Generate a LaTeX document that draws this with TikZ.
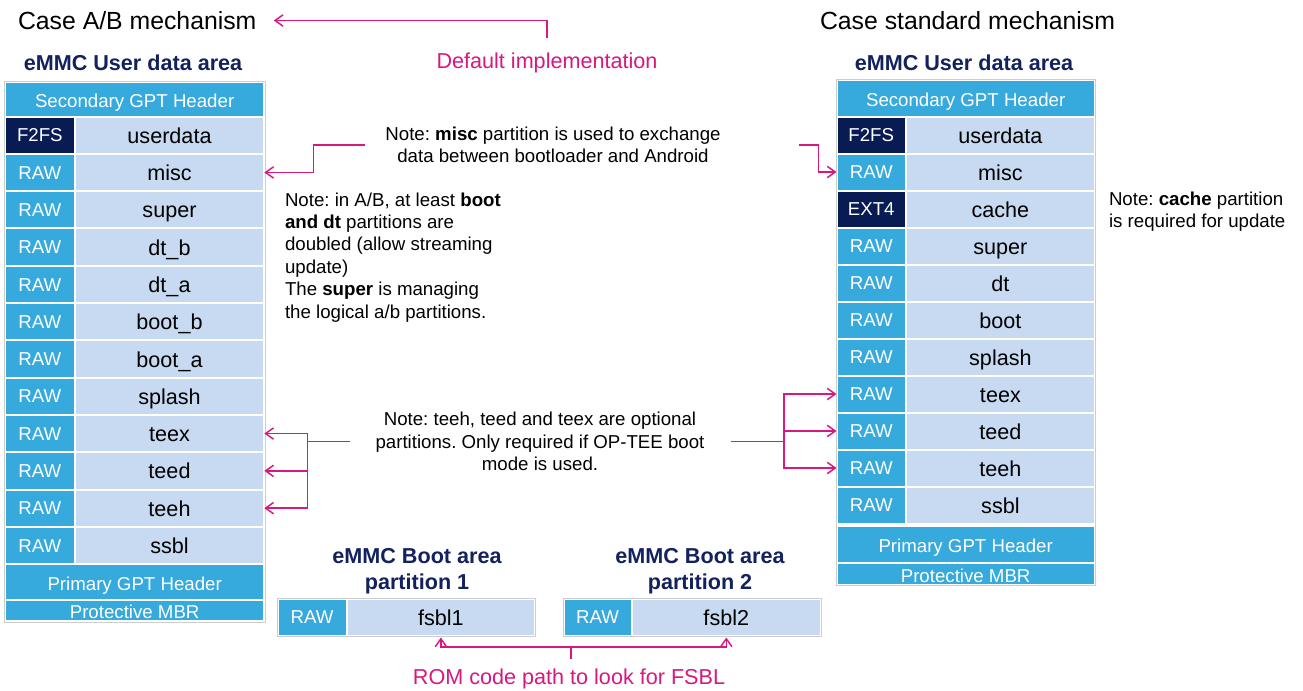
\documentclass[tikz,border=0pt]{standalone}
\usepackage{fontspec}
\setmainfont{Liberation Sans}
\frenchspacing
\usetikzlibrary{arrows.meta,fit}

\definecolor{skyb}{HTML}{36A9DD}
\definecolor{paleb}{HTML}{C7DAF1}
\definecolor{navyc}{HTML}{081B52}
\definecolor{titlec}{HTML}{13225E}
\definecolor{pinkc}{HTML}{D7187F}
\definecolor{frameg}{HTML}{CDCDCD}

\tikzset{
  every node/.style={inner sep=0pt, outer sep=0pt},
  cellbase/.style={rectangle, draw=white, line width=1.5pt},
  tagcell/.style={cellbase, fill=skyb, text=white,
    font=\fontsize{14}{14}\selectfont, text height=10pt, text depth=0pt},
  partcell/.style={cellbase, fill=paleb, text=black,
    font=\fontsize{16.2}{16.2}\selectfont, text height=12.2pt, text depth=0pt},
  bandcell/.style={cellbase, fill=skyb, text=white,
    font=\fontsize{14}{14}\selectfont, text height=12.4pt, text depth=0pt},
  stackframe/.style={draw=frameg, line width=0.5pt, inner sep=0.4pt},
  casehead/.style={font=\fontsize{18.6}{18.6}\selectfont, anchor=west},
  areatitle/.style={font=\bfseries\fontsize{16.2}{19.5}\selectfont, text=titlec, align=center},
  pinklabel/.style={font=\fontsize{16.2}{16.2}\selectfont, text=pinkc},
  notetext/.style={font=\fontsize{14}{16.8}\selectfont\frenchspacing, text=black},
  pinkline/.style={draw=pinkc, line width=1.1pt},
  pinkarrow/.style={pinkline, -{Straight Barb[length=6pt,width=8.5pt]}},
}

\begin{document}
\begin{tikzpicture}[x=0.75pt, y=-0.75pt]
  \fill[white] (0,0) rectangle (1303,690);
  \useasboundingbox (0,0) rectangle (1303,690);

  % ---------- headings ----------
  \node[casehead] (caseab) at (18,20.5) {Case A/B mechanism};
  \node[casehead] (casestd) at (820,20.5) {Case standard mechanism};
  \node[areatitle] (ltitle) at (133,63) {eMMC User data area};
  \node[areatitle] (rtitle) at (964,63) {eMMC User data area};
  \node[pinklabel] (dflt) at (547,62.5) {Default implementation};

  % ---------- left stack: A/B layout ----------
  \node[bandcell, minimum width=259.3*0.75pt, minimum height=34.5*0.75pt]
    (Lsec) at (134.65,99.25) {Secondary GPT Header};
  \foreach \t/\c/\n [count=\i] in {F2FS/navyc/userdata, RAW/skyb/misc,
      RAW/skyb/super, RAW/skyb/dt\_b, RAW/skyb/dt\_a, RAW/skyb/boot\_b,
      RAW/skyb/boot\_a, RAW/skyb/splash, RAW/skyb/teex, RAW/skyb/teed,
      RAW/skyb/teeh, RAW/skyb/ssbl} {
    \pgfmathsetmacro\yc{135.15+37.3*(\i-1)}
    \node[tagcell, fill=\c, minimum width=69.7*0.75pt, minimum height=37.3*0.75pt]
      (Lt\i) at (39.85,\yc) {\t};
    \node[partcell, minimum width=189.6*0.75pt, minimum height=37.3*0.75pt]
      (L\i) at (169.5,\yc) {\n};
  }
  \node[bandcell, minimum width=259.3*0.75pt, minimum height=35.7*0.75pt]
    (Lpri) at (134.65,581.95) {Primary GPT Header};
  \node[bandcell, minimum width=259.3*0.75pt, minimum height=21.5*0.75pt]
    (Lmbr) at (134.65,610.55) {Protective MBR};
  \node[stackframe, fit=(Lsec)(Lmbr)] (Lframe) {};

  % ---------- right stack: standard layout ----------
  \node[bandcell, minimum width=258.3*0.75pt, minimum height=37*0.75pt]
    (Rsec) at (965.65,98) {Secondary GPT Header};
  \foreach \t/\c/\n [count=\i] in {F2FS/navyc/userdata, RAW/skyb/misc,
      EXT4/navyc/cache, RAW/skyb/super, RAW/skyb/dt, RAW/skyb/boot,
      RAW/skyb/splash, RAW/skyb/teex, RAW/skyb/teed, RAW/skyb/teeh,
      RAW/skyb/ssbl} {
    \pgfmathsetmacro\yc{135+37*(\i-1)}
    \node[tagcell, fill=\c, minimum width=69.5*0.75pt, minimum height=37*0.75pt]
      (Rt\i) at (871.25,\yc) {\t};
    \node[partcell, minimum width=188.8*0.75pt, minimum height=37*0.75pt]
      (R\i) at (1000.4,\yc) {\n};
  }
  \node[bandcell, minimum width=258.3*0.75pt, minimum height=36.5*0.75pt]
    (Rpri) at (965.65,544.25) {Primary GPT Header};
  \node[bandcell, minimum width=258.3*0.75pt, minimum height=22.5*0.75pt]
    (Rmbr) at (965.65,573.75) {Protective MBR};
  \node[stackframe, fit=(Rsec)(Rmbr)] (Rframe) {};

  % ---------- boot area partitions ----------
  \node[areatitle] (b1title) at (417,571) {eMMC Boot area\\partition 1};
  \node[areatitle] (b2title) at (700,571) {eMMC Boot area\\partition 2};
  \node[tagcell, minimum width=69.2*0.75pt, minimum height=37*0.75pt]
    (B1t) at (312.1,617) {RAW};
  \node[partcell, minimum width=188.4*0.75pt, minimum height=37*0.75pt]
    (B1n) at (440.9,617) {fsbl1};
  \node[stackframe, fit=(B1t)(B1n)] (B1frame) {};
  \node[tagcell, minimum width=68.2*0.75pt, minimum height=37*0.75pt]
    (B2t) at (597.6,617) {RAW};
  \node[partcell, minimum width=189.1*0.75pt, minimum height=37*0.75pt]
    (B2n) at (726.3,617) {fsbl2};
  \node[stackframe, fit=(B2t)(B2n)] (B2frame) {};

  % ---------- notes ----------
  \node[notetext, align=center] (miscnote) at (553,145)
    {Note: \textbf{misc} partition is used to exchange\\data between bootloader and Android};
  \node[notetext, align=left, anchor=north west] (abnote) at (285,192.5)
    {Note: in A/B, at least \textbf{boot}\\\textbf{and dt} partitions are\\doubled (allow streaming\\update)\\The \textbf{super} is managing\\the logical a/b partitions.};
  \node[notetext, align=center] (teenote) at (540,441.5)
    {Note: teeh, teed and teex are optional\\partitions. Only required if OP-TEE boot\\mode is used.};
  \node[notetext, align=left, anchor=west] (cachenote) at (1109,211.5)
    {Note: \textbf{cache} partition\\is required for update};
  \node[pinklabel] (romtext) at (569,679) {ROM code path to look for FSBL};

  % ---------- connectors ----------
  \draw[pinkarrow] ([yshift=10.5pt]dflt.north) |- ([xshift=13pt]caseab.east);

  \draw[pinkarrow] ([xshift=-15pt]miscnote.west) -- ++(-52,0) |- (L2.east);
  \draw[pinkarrow] ([xshift=59pt]miscnote.east) -- ++(19,0) |- (Rt2.west);

  \draw[pinkline] ([xshift=-19.5pt]teenote.west) -- ++(-42,0) coordinate (teeL);
  \foreach \k in {9,10,11} \draw[pinkarrow] (teeL) |- (L\k.east);
  \draw[pinkline] ([xshift=20pt]teenote.east) -- ++(53,0) coordinate (teeR);
  \foreach \k in {8,9,10} \draw[pinkarrow] (teeR) |- (Rt\k.west);

  \coordinate (romj) at (571,647);
  \draw[pinkline] (romj) -- ++(0,12);
  \draw[pinkarrow, shorten >=1.5pt] (romj) -| (B1n.south);
  \draw[pinkarrow, shorten >=1.5pt] (romj) -| (B2n.south);
\end{tikzpicture}
\end{document}
